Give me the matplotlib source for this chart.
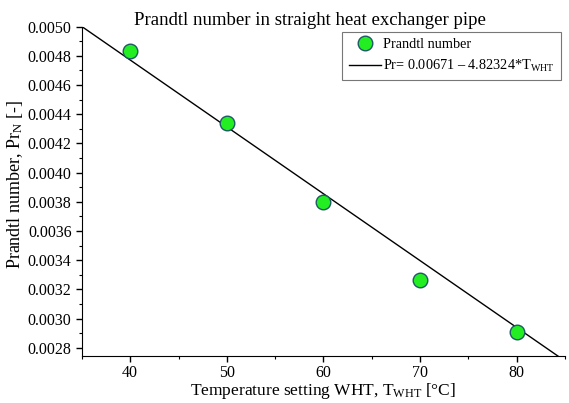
import numpy as np
import matplotlib
matplotlib.use("Agg")
import matplotlib.pyplot as plt
from matplotlib.ticker import MultipleLocator, FormatStrFormatter

# data
temperature = [40, 50, 60, 70, 80]
prandtl = [0.004836, 0.004338, 0.003799, 0.003266, 0.002911]

# fitted line as drawn in the picture
line_intercept = 0.006603
line_slope = -4.58e-5
line_x = [35, 85]

x_ticks = [40, 50, 60, 70, 80]

plt.rcParams['font.family'] = 'Liberation Serif'
plt.rcParams['mathtext.fontset'] = 'custom'
plt.rcParams['mathtext.rm'] = 'Liberation Serif'

fig = plt.figure(figsize=(5.69, 4.03), dpi=100)
ax = fig.add_axes([0.144, 0.117, 0.849, 0.817])

line_y = [line_intercept + line_slope * x for x in line_x]
ax.plot(line_x, line_y, color='black', lw=1.0,
        label=r'Pr= 0.00671 – 4.82324*T$\mathregular{_{WHT}}$', zorder=2)
ax.plot(temperature, prandtl, 'o', ms=10.5, mfc='#22ee22', mec='#1e5a66', mew=1.0,
        label='Prandtl number', zorder=3)

ax.set_xlim(35, 85)
ax.set_ylim(0.002745, 0.0050)
ax.set_xticks(x_ticks)
ax.xaxis.set_minor_locator(MultipleLocator(5))
ax.yaxis.set_major_locator(MultipleLocator(0.0002))
ax.yaxis.set_minor_locator(MultipleLocator(0.0001))
ax.yaxis.set_major_formatter(FormatStrFormatter('%.4f'))

for s in ['top', 'right']:
    ax.spines[s].set_visible(False)
ax.tick_params(which='major', direction='out', length=4, width=1, labelsize=11.5)
ax.tick_params(axis='x', which='major', pad=2.5)
ax.tick_params(which='minor', direction='out', length=2.5, width=0.8)

ax.set_xlabel(r'Temperature setting WHT, T$\mathregular{_{WHT}}$ [°C]', fontsize=12.5, labelpad=0)
ax.set_ylabel(r'Prandtl number, Pr$\mathregular{_{N}}$ [-]', fontsize=13)
ax.yaxis.set_label_coords(-0.117, 0.52)
fig.text(310 / 569, 1 - 25 / 403, 'Prandtl number in straight heat exchanger pipe',
         fontsize=13.5, ha='center', va='baseline')

handles, labels = ax.get_legend_handles_labels()
leg = ax.legend(handles[::-1], labels[::-1], loc='upper right', fontsize=10.3,
                fancybox=False, edgecolor='#777777', framealpha=1,
                borderpad=0.45, handlelength=2.25, handletextpad=0.15,
                labelspacing=0.45, bbox_to_anchor=(0.992, 0.984),
                borderaxespad=0)
leg.get_frame().set_linewidth(0.8)

fig.savefig('out.png', dpi=100)
